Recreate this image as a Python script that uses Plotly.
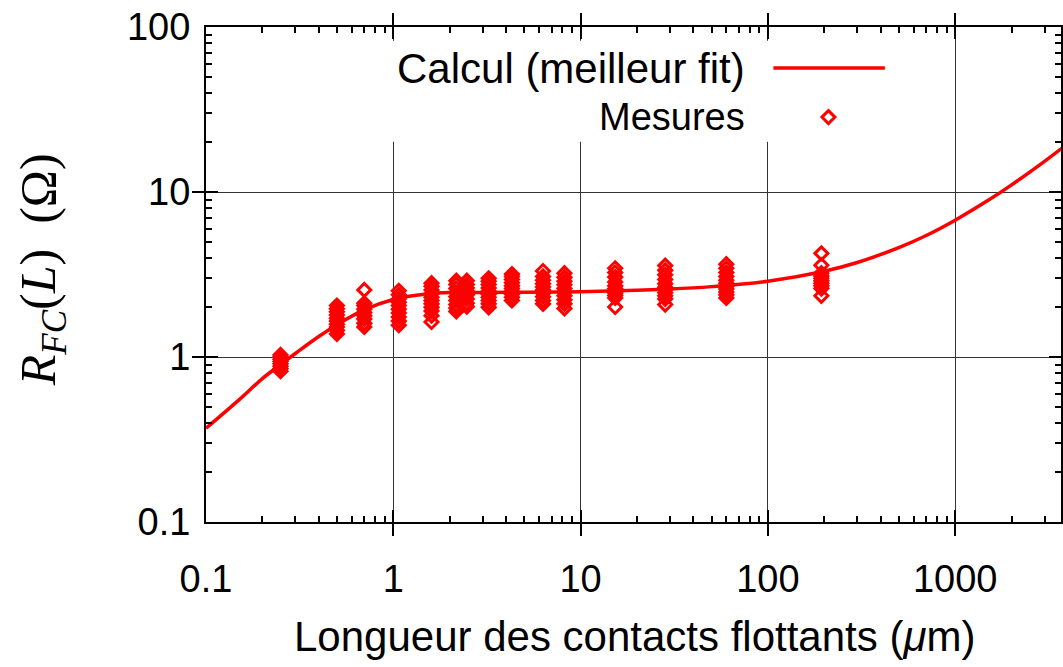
import plotly.graph_objects as go

# ---- Data ----
# Best-fit curve (length in um, resistance in ohm)
fit_L = [0.1, 0.15, 0.2, 0.25, 0.3, 0.4, 0.5, 0.7, 1.0, 1.5, 2, 3, 5, 10, 20, 30, 50,
         100, 200, 300, 500, 700, 1000, 1500, 2000, 3000, 3800]
fit_R = [0.37, 0.55, 0.74, 0.90, 1.05, 1.33, 1.57, 1.93, 2.23, 2.41, 2.46, 2.46, 2.47,
         2.49, 2.54, 2.58, 2.67, 2.88, 3.31, 3.74, 4.6, 5.45, 6.75, 8.9, 11.05, 15.35, 18.8]

# Measurements: contact lengths and the resistances measured at each length
meas_L = [0.25, 0.5, 0.7, 1.07, 1.6, 2.17, 2.47, 3.23, 4.3, 6.3, 8.2, 15.3, 28.3, 60, 193]
meas_R = [
    [0.82, 0.85, 0.88, 0.91, 0.94, 0.97, 1.0, 1.03],
    [1.38, 1.45, 1.52, 1.58, 1.65, 1.72, 1.8, 1.88, 1.96, 2.05],
    [1.52, 1.6, 1.7, 1.78, 1.86, 1.95, 2.05, 2.12, 2.55],
    [1.56, 1.65, 1.75, 1.85, 1.95, 2.05, 2.15, 2.25, 2.38, 2.52],
    [1.63, 1.78, 1.9, 2.0, 2.1, 2.2, 2.3, 2.42, 2.55, 2.68, 2.8],
    [1.89, 1.98, 2.08, 2.2, 2.32, 2.45, 2.6, 2.75, 2.9],
    [2.02, 2.12, 2.25, 2.38, 2.5, 2.62, 2.75, 2.9],
    [2.0, 2.1, 2.2, 2.3, 2.4, 2.5, 2.62, 2.75, 2.88, 3.0],
    [2.2, 2.3, 2.4, 2.5, 2.6, 2.7, 2.82, 2.95, 3.08, 3.18],
    [2.1, 2.2, 2.32, 2.44, 2.55, 2.66, 2.78, 2.92, 3.08, 3.32],
    [1.97, 2.1, 2.22, 2.35, 2.48, 2.6, 2.74, 2.88, 3.04, 3.22],
    [2.01, 2.28, 2.36, 2.44, 2.52, 2.6, 2.7, 2.85, 3.05, 3.25, 3.45],
    [2.08, 2.25, 2.35, 2.45, 2.55, 2.65, 2.78, 2.95, 3.15, 3.35, 3.58],
    [2.28, 2.38, 2.48, 2.58, 2.68, 2.8, 2.92, 3.08, 3.25, 3.45, 3.65],
    [2.35, 2.6, 2.7, 2.8, 2.9, 3.0, 3.1, 3.22, 3.6, 4.25],
]

legend_line_label = "Calcul (meilleur fit)"
legend_marker_label = "Mesures"
x_title = "Longueur des contacts flottants (<i>μ</i>m)"
y_title = "<i>R</i><sub><i>FC</i></sub>(<i>L</i>)  (Ω)"

# ---- Build figure ----
xs, ys = [], []
for L, rs in zip(meas_L, meas_R):
    xs += [L] * len(rs)
    ys += rs

RED = "#ff0000"
SANS = "Liberation Sans"
X_RANGE = [-1, 3.565]
Y_RANGE = [-1, 2]

minor_x = [m * 10 ** e for e in range(-1, 4) for m in range(2, 10)]
minor_y = [m * 10 ** e for e in range(-1, 2) for m in range(2, 10)]

fig = go.Figure()
fig.add_trace(go.Scatter(x=xs, y=ys, mode="markers",
                         marker=dict(symbol="diamond-open", size=10, color=RED,
                                     line=dict(width=3, color=RED)),
                         showlegend=False))
fig.add_trace(go.Scatter(x=fit_L, y=fit_R, mode="lines",
                         line=dict(color=RED, width=3.5, shape="spline"),
                         showlegend=False))
# empty traces so the minor-tick overlay axes exist
fig.add_trace(go.Scatter(x=[], y=[], xaxis="x2", yaxis="y", showlegend=False))
fig.add_trace(go.Scatter(x=[], y=[], xaxis="x", yaxis="y2", showlegend=False))

axis_common = dict(
    type="log", tickmode="linear", tick0=0, dtick=1, exponentformat="none",
    ticks="inside", ticklen=12, tickwidth=1.5, tickcolor="black",
    showline=True, linecolor="black", linewidth=2, mirror="allticks",
    showgrid=True, gridcolor="#333333", gridwidth=1, zeroline=False,
    automargin=False,
    tickfont=dict(family=SANS, size=38, color="black"),
)
minor_common = dict(
    type="log", tickmode="array", ticks="inside", ticklen=6, tickwidth=1.5,
    tickcolor="black", showticklabels=False, showgrid=False, zeroline=False,
    showline=False, mirror="allticks", automargin=False, fixedrange=True,
)

# legend geometry (paper fractions of the plot area)
lx0, lx1, ly_line = 0.6636, 0.794, 0.917
mx, my = 0.728, 0.818
ddx, ddy = 6.5 / 856, 6.5 / 495
diamond_path = (f"M {mx},{my + ddy} L {mx + ddx},{my} L {mx},{my - ddy} "
                f"L {mx - ddx},{my} Z")

fig.update_layout(
    width=1063, height=667, autosize=False,
    margin=dict(l=206, r=2, t=27, b=145),
    paper_bgcolor="white", plot_bgcolor="white",
    xaxis=dict(range=X_RANGE, ticklabelstandoff=22, **axis_common),
    yaxis=dict(range=Y_RANGE, ticklabelstandoff=6, **axis_common),
    xaxis2=dict(overlaying="x", anchor="y", side="bottom", range=X_RANGE,
                tickvals=minor_x, **minor_common),
    yaxis2=dict(overlaying="y", anchor="x", side="left", range=Y_RANGE,
                tickvals=minor_y, **minor_common),
    showlegend=False,
    shapes=[
        dict(type="rect", xref="paper", yref="paper", x0=0.203, x1=0.817,
             y0=0.768, y1=0.972, fillcolor="white", line=dict(width=0), layer="above"),
        dict(type="line", xref="paper", yref="paper", x0=lx0, x1=lx1, y0=ly_line, y1=ly_line,
             line=dict(color=RED, width=3.5), layer="above"),
        dict(type="path", xref="paper", yref="paper", path=diamond_path,
             line=dict(color=RED, width=3), fillcolor="rgba(0,0,0,0)", layer="above"),
    ],
    annotations=[
        dict(text=legend_line_label, xref="paper", yref="paper", x=0.633, y=0.917,
             xanchor="right", yanchor="middle", showarrow=False,
             font=dict(family=SANS, size=42, color="black")),
        dict(text=legend_marker_label, xref="paper", yref="paper", x=0.633, y=0.818,
             xanchor="right", yanchor="middle", showarrow=False,
             font=dict(family=SANS, size=38, color="black")),
        dict(text=x_title, xref="paper", yref="paper", x=0.501, y=-0.232,
             xanchor="center", yanchor="middle", showarrow=False,
             font=dict(family=SANS, size=42, color="black")),
        dict(text=y_title, xref="paper", yref="paper", x=-0.1916, y=0.509,
             xanchor="center", yanchor="middle", showarrow=False, textangle=-90,
             font=dict(family="Liberation Serif", size=50, color="black")),
    ],
)

fig.write_html("out.html", post_script="document.body.style.margin='0';",
               config={"displayModeBar": False})
